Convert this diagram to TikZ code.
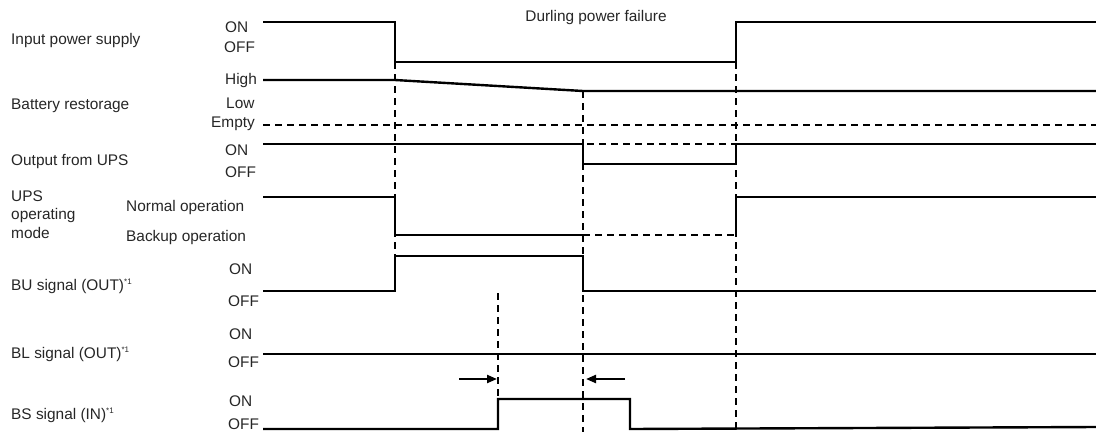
\documentclass[tikz,border=0pt]{standalone}
\usepackage{fontspec}
\setmainfont{Liberation Sans}
\usetikzlibrary{arrows.meta}
\begin{document}
\begin{tikzpicture}[x=1pt,y=-1pt,
  lbl/.style={anchor=base west,inner sep=0pt,font=\fontsize{15.4}{17}\selectfont,text=black!85},
  lble/.style={lbl,anchor=base east},
  wave/.style={line width=2.4pt,line join=miter},
  thinwave/.style={line width=1.4pt},
  dsh/.style={line width=2.4pt,dash pattern=on 7pt off 5pt},
  arr/.style={line width=2.2pt,-{Triangle[length=10pt,width=8pt]}}]
\useasboundingbox (0,0) rectangle (1096,432);
% left labels
\node[lbl] (ips) at (11,44) {Input power supply};
\node[lbl] (bat) at (11,109) {Battery restorage};
\node[lbl] (out) at (11,165) {Output from UPS};
\node[lbl] (ups1) at (11,201) {UPS};
\node[lbl] (ups2) at (11,219) {operating};
\node[lbl] (ups3) at (11,238) {mode};
\node[lbl] (bu) at (11,290) {BU signal (OUT)\textsuperscript{\fontsize{8}{8}\selectfont *1}};
\node[lbl] (bl) at (11,358) {BL signal (OUT)\textsuperscript{\fontsize{8}{8}\selectfont *1}};
\node[lbl] (bs) at (11,419) {BS signal (IN)\textsuperscript{\fontsize{8}{8}\selectfont *1}};
% level labels
\node[lbl] (ion) at (225,32) {ON};
\node[lbl] (ioff) at (224,52) {OFF};
\node[lbl] (bhi) at (225,84) {High};
\node[lbl] (blo) at (226,108) {Low};
\node[lble] (bem) at (255,127) {Empty};
\node[lbl] (oon) at (225,155) {ON};
\node[lbl] (ooff) at (225,177) {OFF};
\node[lbl] (mn) at (126,211) {Normal operation};
\node[lbl] (mb) at (126,241) {Backup operation};
\node[lbl] (buon) at (229,274) {ON};
\node[lbl] (buoff) at (228,306) {OFF};
\node[lbl] (blon) at (229,339) {ON};
\node[lbl] (bloff) at (228,367) {OFF};
\node[lbl] (bson) at (229,406) {ON};
\node[lbl] (bsoff) at (228,429) {OFF};
\node[lbl,anchor=base] (title) at (596,21) {Durling power failure};
% dashed guide lines
\draw[dsh] (395,62) -- (395,291);
\draw[dsh] (583,91) -- (583,432);
\draw[dsh] (736,62) -- (736,429);
\draw[dsh] (498,293) -- (498,399);
\draw[dsh] (263,125) -- (1096,125);
\draw[dsh] (263,144) -- (1096,144);
\draw[dsh] (583,235) -- (736,235);
% waveforms
\draw[wave] (263,22) -- (395,22) -- (395,62) -- (736,62) -- (736,22) -- (1096,22);
\draw[wave] (263,80) -- (395,80) -- (583,91) -- (1096,91);
\draw[thinwave] (263,144) -- (583,144);
\draw[wave] (583,144) -- (583,164) -- (736,164) -- (736,144) -- (1096,144);
\draw[wave] (263,197) -- (395,197) -- (395,235) -- (583,235);
\draw[wave] (736,235) -- (736,197) -- (1096,197);
\draw[wave] (263,291) -- (395,291) -- (395,256) -- (583,256) -- (583,291) -- (1096,291);
\draw[wave] (263,354) -- (1096,354);
\draw[wave] (263,429) -- (498,429) -- (498,399) -- (630,399) -- (630,429) -- (1096,427);
% arrows
\coordinate (a1s) at (459,379);
\coordinate (a1e) at (497,379);
\coordinate (a2s) at (625,379);
\coordinate (a2e) at (586,379);
\draw[arr] (a1s) -- (a1e);
\draw[arr] (a2s) -- (a2e);
\end{tikzpicture}
\end{document}
